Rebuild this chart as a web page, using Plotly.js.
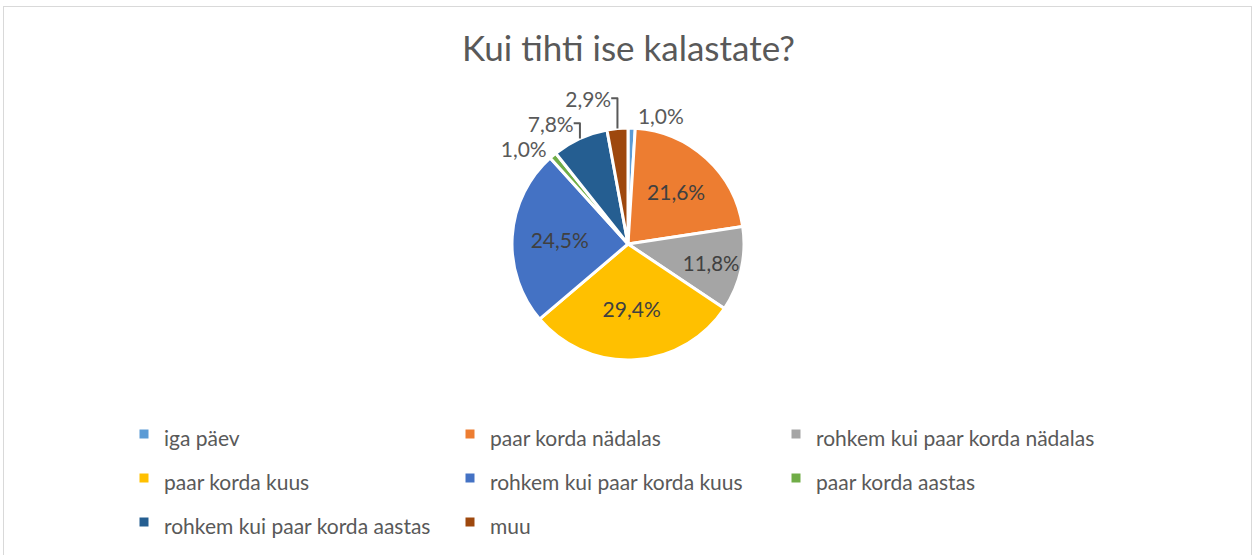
<!DOCTYPE html>
<html>
<head>
<meta charset="utf-8">
<script src="https://cdn.plot.ly/plotly-3.0.1.min.js"></script>
<style>
  html, body { margin: 0; padding: 0; background: #fff; }
  #wrap { position: relative; width: 1257px; height: 555px; overflow: hidden; }
  #chart { position: absolute; left: 0; top: 0; width: 1257px; height: 555px; }
  #frame { position: absolute; left: 3px; top: 6px; width: 1247px; height: 600px; border: 1px solid #d9d9d9; pointer-events: none; }
</style>
</head>
<body>
<div id="wrap">
  <div id="chart"></div>
  <div id="frame"></div>
</div>
<script>
const categories = [
  "iga päev",
  "paar korda nädalas",
  "rohkem kui paar korda nädalas",
  "paar korda kuus",
  "rohkem kui paar korda kuus",
  "paar korda aastas",
  "rohkem kui paar korda aastas",
  "muu"
];
const shares = [1.0, 21.6, 11.8, 29.4, 24.5, 1.0, 7.8, 2.9];
const colors = ["#5B9BD5", "#ED7D31", "#A5A5A5", "#FFC000", "#4472C4", "#70AD47", "#255E91", "#9E480E"];
const labelPositions = ["outside", "inside", "inside", "inside", "inside", "outside", "outside", "outside"];
const titleText = "Kui tihti ise kalastate?";

const W = 1257, H = 555;
const cx = 628, cy = 244, r = 116;

// legend entries: real category text, drawn at 21px inside a taller legend row
const legendLabels = categories.map(c => '<span style="font-size:21px">' + c + '</span>');

const trace = {
  type: "pie",
  labels: legendLabels,
  values: shares,
  sort: false,
  direction: "clockwise",
  rotation: 0,
  marker: { colors: colors, line: { color: "#ffffff", width: 3 } },
  texttemplate: "%{value:.1f}%",
  textposition: labelPositions,
  insidetextorientation: "horizontal",
  textfont: { family: "Lato, sans-serif", size: 21, color: "#404040" },
  outsidetextfont: { family: "Lato, sans-serif", size: 21, color: "#595959" },
  hoverinfo: "percent",
  domain: { x: [(cx - r) / W, (cx + r) / W], y: [(H - cy - r) / H, (H - cy + r) / H] },
  automargin: false
};

const layout = {
  width: W, height: H,
  margin: { l: 0, r: 0, t: 0, b: 0 },
  paper_bgcolor: "#ffffff",
  separators: ", ",
  title: {
    text: titleText,
    font: { family: "Lato, sans-serif", size: 35, color: "#595959" },
    x: 0.5, xanchor: "center",
    y: 1 - 49 / H, yanchor: "middle", yref: "container"
  },
  showlegend: true,
  legend: {
    orientation: "h",
    x: 124 / W, xanchor: "left",
    y: 1 - 407 / H, yanchor: "top",
    entrywidth: 281, entrywidthmode: "pixels",
    font: { family: "Lato, sans-serif", size: 31.5, color: "#595959" },
    traceorder: "normal"
  }
};

Plotly.newPlot("chart", [trace], layout, { displayModeBar: false, staticPlot: true });
</script>
</body>
</html>
